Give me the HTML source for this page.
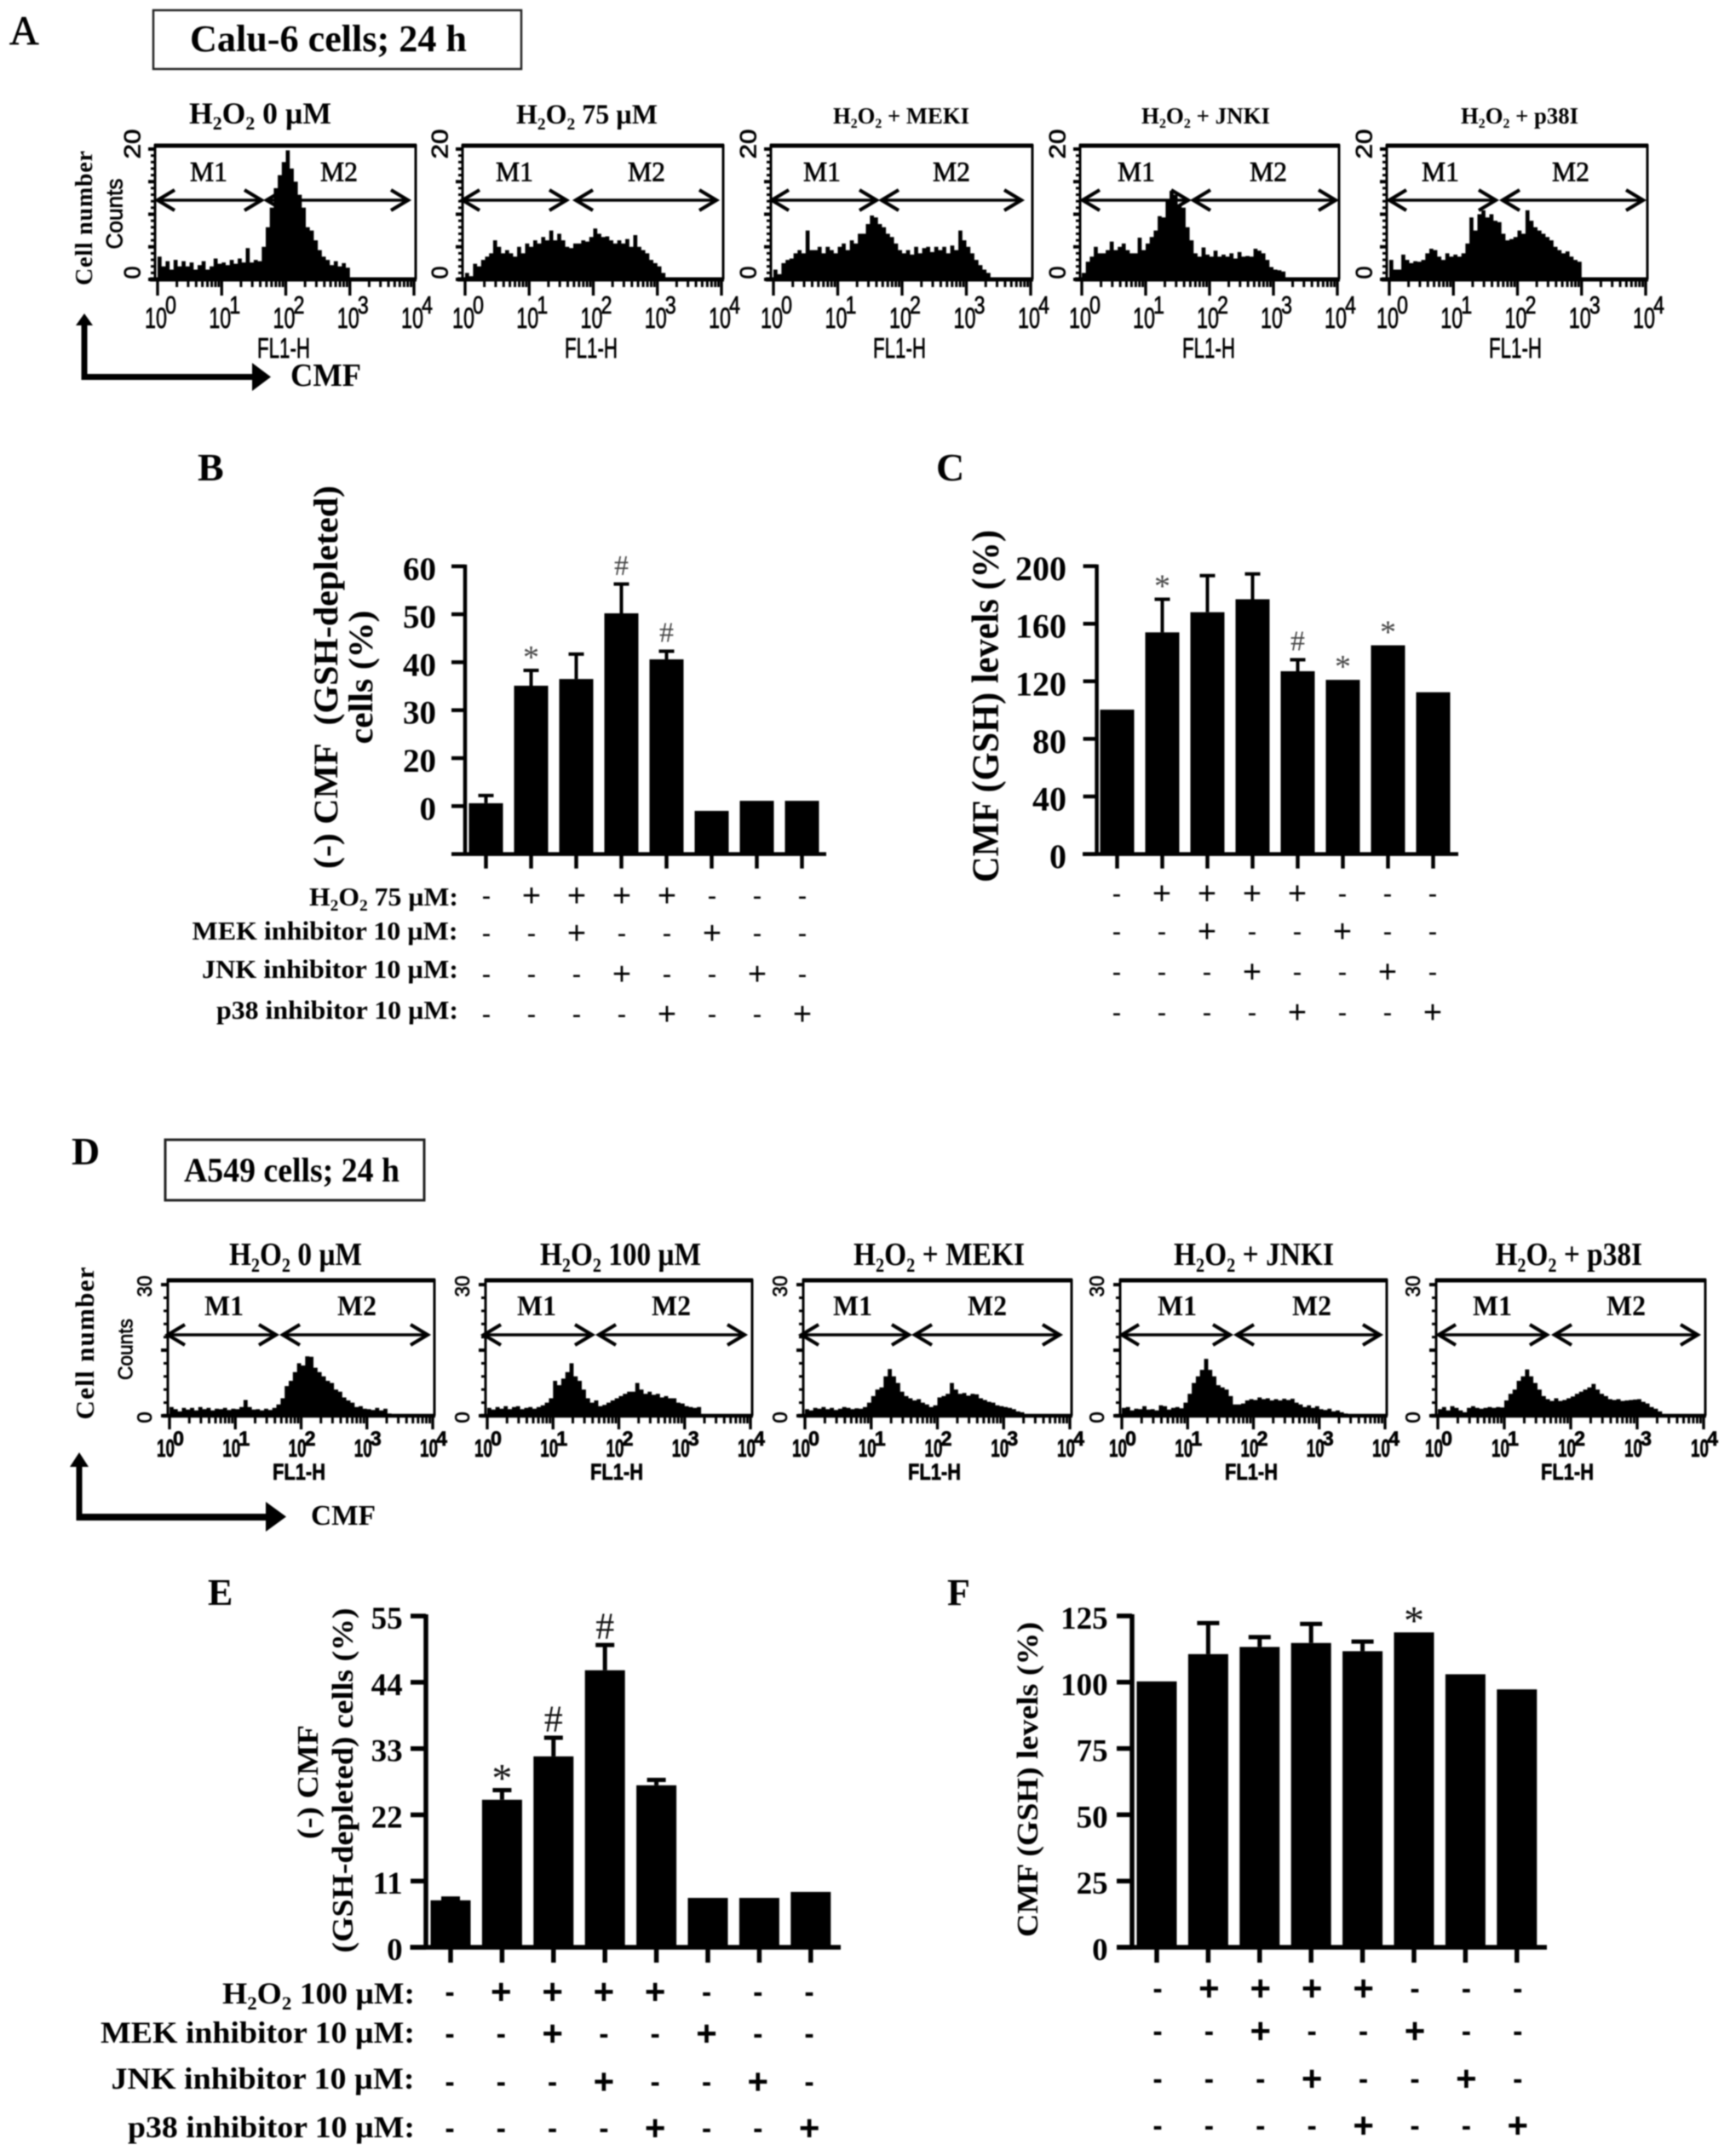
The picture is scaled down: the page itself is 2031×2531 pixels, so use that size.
<!DOCTYPE html>
<html lang="en">
<head>
<meta charset="utf-8">
<title>CMF flow cytometry and GSH-depleted cells, Calu-6 and A549</title>
<style>
html,body{margin:0;padding:0;background:#fff;width:2031px;height:2531px;overflow:hidden}
svg{display:block;filter:blur(0.7px)}
text{font-family:"Liberation Serif",serif;fill:#000}
.sans{font-family:"Liberation Sans",sans-serif}
.b{font-weight:bold}
.thick{stroke:#000;stroke-width:0.7px}
</style>
</head>
<body>
<svg id="figure" xmlns="http://www.w3.org/2000/svg" width="2031" height="2531" viewBox="0 0 2031 2531">
<rect width="2031" height="2531" fill="#fff"/>

<!-- panel letters -->
<text x="11" y="52" font-size="48" class="thick">A</text>
<text x="232" y="564" font-size="46" class="b">B</text>
<text x="1099" y="564" font-size="46" class="b">C</text>
<text x="84" y="1367" font-size="46" class="b">D</text>
<text x="244" y="1884" font-size="44" class="b">E</text>
<text x="1112" y="1884" font-size="44" class="b">F</text>

<!-- title boxes -->
<rect x="180" y="12" width="432" height="69" fill="none" stroke="#222" stroke-width="2.5"/>
<text x="223" y="60" font-size="44" class="b" textLength="325" lengthAdjust="spacingAndGlyphs">Calu-6 cells; 24 h</text>
<rect x="194" y="1338" width="304" height="71" fill="none" stroke="#222" stroke-width="3"/>
<text x="216" y="1387" font-size="40" class="b" textLength="253" lengthAdjust="spacingAndGlyphs">A549 cells; 24 h</text>

<!-- flow axis captions A -->
<text transform="translate(108 256) rotate(-90)" text-anchor="middle" font-size="28" class="b" textLength="158" lengthAdjust="spacing">Cell number</text>
<text class="sans thick" transform="translate(143.5 251) rotate(-90)" text-anchor="middle" font-size="27" textLength="83" lengthAdjust="spacingAndGlyphs">Counts</text>
<g fill="#000" stroke="none">
<rect x="95.5" y="378" width="7" height="68"/><rect x="95.5" y="439" width="202" height="7"/>
<polygon points="99,368 89,382 109,382"/><polygon points="318,442.5 296,426 296,459"/>
</g>
<text x="341" y="453" font-size="38" class="b" textLength="83" lengthAdjust="spacingAndGlyphs">CMF</text>

<!-- flow axis captions D -->
<text transform="translate(110 1577) rotate(-90)" text-anchor="middle" font-size="31" class="b" textLength="179" lengthAdjust="spacing">Cell number</text>
<text class="sans thick" transform="translate(155.6 1584) rotate(-90)" text-anchor="middle" font-size="24" textLength="72" lengthAdjust="spacingAndGlyphs">Counts</text>
<g fill="#000" stroke="none">
<rect x="89.5" y="1718" width="7" height="66"/><rect x="89.5" y="1777" width="225" height="8"/>
<polygon points="93,1705 82,1722 104,1722"/><polygon points="336,1780.5 312,1763 312,1798"/>
</g>
<text x="365" y="1790" font-size="34" class="b" textLength="76" lengthAdjust="spacingAndGlyphs">CMF</text>

<!-- bar chart axis titles -->
<text transform="translate(396 795) rotate(-90)" text-anchor="middle" font-size="40" class="b" textLength="450" lengthAdjust="spacingAndGlyphs">(-) CMF&#160;&#160;(GSH-depleted)</text>
<text transform="translate(437 795) rotate(-90)" text-anchor="middle" font-size="40" class="b" textLength="157" lengthAdjust="spacingAndGlyphs">cells (%)</text>
<text transform="translate(1171.5 829) rotate(-90)" text-anchor="middle" font-size="44" class="b" textLength="414" lengthAdjust="spacingAndGlyphs">CMF (GSH) levels (%)</text>
<text transform="translate(373 2092) rotate(-90)" text-anchor="middle" font-size="35" class="b" textLength="134" lengthAdjust="spacingAndGlyphs">(-) CMF</text>
<text transform="translate(414 2090) rotate(-90)" text-anchor="middle" font-size="35" class="b" textLength="405" lengthAdjust="spacingAndGlyphs">(GSH-depleted) cells (%)</text>
<text transform="translate(1218 2089) rotate(-90)" text-anchor="middle" font-size="35" class="b" textLength="370" lengthAdjust="spacingAndGlyphs">CMF (GSH) levels (%)</text>

<!-- treatment row labels B -->
<text x="363" y="1063" font-size="31" class="b" textLength="175" lengthAdjust="spacingAndGlyphs">H<tspan font-size="19" dy="6">2</tspan><tspan dy="-6">O</tspan><tspan font-size="19" dy="6">2</tspan><tspan dy="-6"> 75 µM:</tspan></text>
<text x="225.5" y="1103" font-size="31" class="b" textLength="312" lengthAdjust="spacingAndGlyphs">MEK inhibitor 10 µM:</text>
<text x="237" y="1148" font-size="31" class="b" textLength="301" lengthAdjust="spacingAndGlyphs">JNK inhibitor 10 µM:</text>
<text x="254" y="1196" font-size="31" class="b" textLength="284" lengthAdjust="spacingAndGlyphs">p38 inhibitor 10 µM:</text>

<!-- treatment row labels E -->
<text x="261" y="2352" font-size="36" class="b" textLength="226" lengthAdjust="spacingAndGlyphs">H<tspan font-size="22" dy="7">2</tspan><tspan dy="-7">O</tspan><tspan font-size="22" dy="7">2</tspan><tspan dy="-7"> 100 µM:</tspan></text>
<text x="118" y="2398" font-size="36" class="b" textLength="369" lengthAdjust="spacingAndGlyphs">MEK inhibitor 10 µM:</text>
<text x="130.5" y="2452" font-size="36" class="b" textLength="356" lengthAdjust="spacingAndGlyphs">JNK inhibitor 10 µM:</text>
<text x="150" y="2509" font-size="36" class="b" textLength="337" lengthAdjust="spacingAndGlyphs">p38 inhibitor 10 µM:</text>
</svg>

<script>
/* ---------- histogram data: counts per bin, 16 bins per decade ---------- */
const histA1=[3.5,2,2.8,1.5,3,2,2.8,2,2.6,1.5,2.2,2.8,1.5,2,3.2,2.4,2.6,2.2,3,2.4,3.2,2.6,4.8,2.6,3,2.8,5,8,11,14,16,18,19.8,17,15,13,11,8,7.5,6,4.5,3.5,3,2.2,2.8,2,2.5,1.8,0];
const histA2=[1,0.5,2.4,2,3,3.5,4,6,5,4,4.5,4,3.5,5,4,5.5,5,6,5.5,6.5,6,7.5,6,7,6,5,4.8,5.5,5.5,6,5.8,6.5,7.8,7,6.5,6.6,6,5.5,6,5.5,6.2,5,6.8,5,4.5,4,3,2.5,2,1,0];
const histA3=[1.5,0.8,2.5,3,3.2,4,4.5,4,7.5,4.5,4.5,5,4,5,4.5,4,5,5.5,4.5,6,5.5,7,7,8.5,9.8,9.5,8.5,8,7,6.5,5.5,4.5,4,4.5,3.8,5,4,4.8,5,4.2,5,4.5,5,4,5.2,4.5,7.5,6,5,4,3,2.2,1.5,1,0];
const histA4=[1,2.7,3.5,5,4,4,4.5,5.8,4.5,5,5.5,4.5,4,4,6.4,4.5,5.5,6.5,7.5,9.7,9.5,12,13.6,13,11.5,11,8,6,4,3.5,4.9,3.8,3.5,4.4,3.5,3.8,3.5,4,3.2,4.2,3.5,3.6,3.5,4.7,4.4,4,3,1.9,1.5,1.4,1.2,0];
const histA5=[3,1.5,1.5,3.8,3,2.5,2.8,2.7,3,4,4.7,4.5,3.5,3,4,3.5,3.8,3.5,4,5.5,9.5,7.5,10,10.6,9.5,10,9,8.8,7,6,6.2,6.5,7.5,7,10.6,9,8,7.5,7,6.5,6,5,4.5,4,4.3,3.5,3,2.7,0];
const histD1=[2,1.5,1,1.8,1.4,1.8,1.2,2,1.5,1.8,1.2,1.6,1.5,1.8,1.3,1.6,1.5,2,3.6,2,1.4,1.5,1.2,1.6,1.3,1.8,2.6,4,6.8,8,10,12,11.5,13.6,13.5,11,10,9,8,7.5,6,5.5,4.2,3.5,3,2,2.2,1.6,1.5,1.3,1.8,1.2,1.6,0.5,0];
const histD2=[1.8,1.4,2,1.6,2.2,1.5,2,2.2,1.5,1.8,2,1.6,2,2.4,3,4,8,7,8.5,10,12,9,8,6,4,3,3.5,2.2,2.5,3,3.5,4,4.5,5,5.5,5.5,7.5,6,5,5.5,4.8,5,4.2,4.5,4,4,3,2.8,2.2,2,1.8,2,0];
const histD3=[1.5,1.2,1.8,1.6,2,1.5,1.8,1.3,1.6,2,1.8,1.5,1.7,1.6,2,3,4.5,6,6.5,9,10.7,9,7.5,5.5,4.5,4,3.5,3.8,3,2.6,2,2.4,4.2,4.5,5,7.5,6,5,5.2,4.6,5,4.9,4,3.6,3.2,3,2.4,2.2,2,1.8,1.5,1,0.8,0];
const histD4=[1.8,2,1.2,1.6,1.5,2.2,1.4,1.5,1.2,2.4,2.2,1.4,1.8,2,1.7,3,5,7.5,9,10.5,13,10.5,9,7,6.5,6,4.5,2.6,2.6,2.8,3.5,3.8,3.6,4.2,3.8,4,3.5,3.8,3.5,3.9,3.6,3.9,3,2.6,2,2.4,1.8,2.2,1.5,1.3,1.6,1,1.2,0.8,0.5,0];
const histD5=[1.5,2,1.2,2.2,1.8,1.2,0.8,1.8,2.2,1.8,1.6,1.8,2,1.8,2,1.9,3.5,5,6,8,9,10.6,9,7.5,6,4.5,3.8,3.4,4,3.4,3.6,4,4.4,5,5.5,6,6.5,7.3,6,5,4.5,3.8,3.6,3.8,3.4,3.5,3.6,3.7,3.8,3.2,2.8,2,1.6,1,0];

/* ---------- histogram labels ---------- */
const histTitlesA=['0 µM','75 µM','+ MEKI','+ JNKI','+ p38I'];
const histTitlesD=['0 µM','100 µM','+ MEKI','+ JNKI','+ p38I'];
const decadeLabels=['0','1','2','3','4'];
const gateLabels=['M1','M2'];

/* ---------- bar chart data ---------- */
const treatmentH2O2=[0,1,1,1,1,0,0,0];
const treatmentMEK =[0,0,1,0,0,1,0,0];
const treatmentJNK =[0,0,0,1,0,0,1,0];
const treatmentP38 =[0,0,0,0,1,0,0,1];

const valuesB=[10.6,35.1,36.5,50.2,40.6,9,11.1,11.1];
const upperB =[12.2,38.3,41.7,56.3,42.3,null,null,null];
const marksB =['','*','','#','#','','',''];
const tickValuesB=[60,50,40,30,20,10];
const tickLabelsB=['60','50','40','30','20','0'];

const valuesC=[100.3,154,168,177,127,121,145,112.4];
const upperC =[null,177,193.4,194.6,135,null,null,null];
const marksC =['','*','','','#','*','*',''];
const tickValuesC=[200,160,120,80,40,0];
const tickLabelsC=['200','160','120','80','40','0'];

const valuesE=[7.8,24.5,31.7,46,26.9,8.2,8.2,9.2];
const upperE =[8.1,26.1,34.8,50.2,27.8,null,null,null];
const marksE =['','*','#','#','','','',''];
const tickValuesE=[55,44,33,22,11,0];
const tickLabelsE=['55','44','33','22','11','0'];

const valuesF=[100.3,110.6,113.3,114.8,111.7,118.8,103,97.3];
const upperF =[null,122.3,117,122,115.3,null,null,null];
const marksF =['','','','','','*','',''];
const tickValuesF=[125,100,75,50,25,0];
const tickLabelsF=['125','100','75','50','25','0'];

/* ---------- drawing ---------- */
const NS='http://www.w3.org/2000/svg';
const svg=document.getElementById('figure');
const BINS=64;
function mk(tag,attrs,parent,txt){
  const n=document.createElementNS(NS,tag);
  for(const k in attrs)n.setAttribute(k,attrs[k]);
  if(txt!==undefined)n.textContent=txt;
  (parent||svg).appendChild(n);
  return n;
}
function gateArrow(g,a,b,y,sw){
  mk('line',{x1:a,x2:b,y1:y,y2:y,stroke:'#000','stroke-width':sw},g);
  mk('polyline',{points:(a+21)+','+(y-12)+' '+(a+1)+','+y+' '+(a+21)+','+(y+12),fill:'none',stroke:'#000','stroke-width':sw+0.8},g);
  mk('polyline',{points:(b-21)+','+(y-12)+' '+(b-1)+','+y+' '+(b-21)+','+(y+12),fill:'none',stroke:'#000','stroke-width':sw+0.8},g);
}
function drawHistogram(cfg,counts,titleSuffix,panel){
  const g=mk('g',{});
  
  
  const xd=d=>cfg.tick0+d*(cfg.tick4-cfg.tick0)/4;
  const yc=c=>cfg.y0-c*cfg.unit;
  /* area, drawn as steps so the outline stays jagged */
  let pts=xd(0)+','+cfg.y0;
  for(let i=0;i<BINS;i++){
    const c=i<counts.length?counts[i]:0;
    pts+=' '+xd(i/16).toFixed(1)+','+yc(c).toFixed(1);
    pts+=' '+xd((i+1)/16).toFixed(1)+','+yc(c).toFixed(1);
  }
  pts+=' '+xd(4)+','+cfg.y0;
  const area=mk('polygon',{points:pts,fill:'#000'},g);
  
  
  /* frame */
  const frame=mk('path',{d:'M'+cfg.x0+' '+cfg.yBase+'V'+cfg.top+'H'+cfg.x1+'V'+cfg.yBase,fill:'none',stroke:'#000','stroke-width':3},g);
  
  
  mk('line',{x1:cfg.x0-1,x2:cfg.x1+1,y1:cfg.top,y2:cfg.top,stroke:'#000','stroke-width':cfg.topW},g);
  mk('line',{x1:cfg.x0-6,x2:cfg.x1+1,y1:cfg.y0,y2:cfg.y0,stroke:'#000','stroke-width':cfg.baseW},g);
  /* left ticks */
  for(let c=0;c<=cfg.yMax;c+=cfg.yStep){
    const major=c%cfg.yMajor===0;
    mk('line',{x1:cfg.x0-(major?8:5),x2:cfg.x0,y1:yc(c),y2:yc(c),stroke:'#000','stroke-width':major?4:3},g);
  }
  /* log ticks */
  for(let d=0;d<4;d++){
    for(let m=1;m<10;m++){
      const x=xd(d+Math.log10(m));
      mk('line',{x1:x,x2:x,y1:cfg.y0,y2:cfg.y0+(m===1?cfg.longTick:cfg.shortTick),stroke:'#000','stroke-width':m===1?3.4:3},g);
    }
  }
  mk('line',{x1:xd(4),x2:xd(4),y1:cfg.y0,y2:cfg.y0+cfg.longTick,stroke:'#000','stroke-width':3.4},g);
  /* decade labels */
  decadeLabels.forEach((lab,i)=>{
    const t=mk('text',{x:xd(i)-cfg.lblBack,y:cfg.lblY,'font-size':cfg.lblSize,class:'sans thick','font-weight':cfg.lblWeight,textLength:cfg.lblW,lengthAdjust:'spacingAndGlyphs'},g,'10');
    
    
    mk('text',{x:xd(i)-cfg.lblBack+cfg.lblW-2,y:cfg.lblY-cfg.supUp,'font-size':cfg.supSize,class:'sans thick','font-weight':cfg.lblWeight,textLength:cfg.supW,lengthAdjust:'spacingAndGlyphs'},g,lab);
  });
  /* x caption */
  const fl=mk('text',{x:cfg.x0+cfg.flBack,y:cfg.flY,'font-size':cfg.flSize,class:'sans thick','font-weight':cfg.lblWeight,textLength:62,lengthAdjust:'spacingAndGlyphs'},g,'FL1-H');
  
  
  /* y labels */
  const yLabX=cfg.x0+cfg.yLabOff;
  const top=mk('text',{transform:'translate('+yLabX+' '+cfg.yTopLabY+') rotate(-90)','text-anchor':'middle','font-size':cfg.yLabSize,class:'sans thick',textLength:cfg.yLabW,lengthAdjust:'spacingAndGlyphs'},g,String(cfg.yMax));
  
  
  const zero=mk('text',{transform:'translate('+yLabX+' '+cfg.yZeroLabY+') rotate(-90)','text-anchor':'middle','font-size':cfg.yLabSize,class:'sans thick'},g,'0');
  
  
  /* title */
  const title=mk('text',{x:cfg.titleX,y:cfg.titleY,'font-size':cfg.titleSize,class:'b',textLength:cfg.titleW,lengthAdjust:'spacingAndGlyphs'},g);
  
  
  const sub=Math.round(cfg.titleSize*0.6),dy=Math.round(cfg.titleSize*0.2);
  title.appendChild(document.createTextNode('H'));
  mk('tspan',{'font-size':sub,dy:dy},title,'2');
  mk('tspan',{dy:-dy},title,'O');
  mk('tspan',{'font-size':sub,dy:dy},title,'2');
  mk('tspan',{dy:-dy},title,' '+titleSuffix);
  /* gates */
  gateLabels.forEach((lab,i)=>{
    const t=mk('text',{x:i?cfg.m2:cfg.m1,y:cfg.mY,'font-size':cfg.mSize,class:cfg.mClass,textLength:cfg.mW,lengthAdjust:'spacingAndGlyphs'},g,lab);
    
    
  });
  gateArrow(g,cfg.a1,cfg.a2,cfg.aY,3.4);
  gateArrow(g,cfg.a3,cfg.a4,cfg.aY,3.4);
}
const baseA={top:171,y0:328,yBase:328,unit:7.65,yMax:20,yStep:1,yMajor:5,topW:5,baseW:5,longTick:19,shortTick:9,
  lblBack:15,lblY:385,lblSize:34,lblWeight:'normal',lblW:26,supUp:17,supSize:29,supW:13,flBack:120,flY:420,flSize:33,
  yLabOff:-17.5,yTopLabY:169,yZeroLabY:320,yLabSize:27,yLabW:35,titleY:145,mY:212.7,mSize:33,mW:44,mClass:'thick',aY:235};
const baseD={top:1503,y0:1662,yBase:1662,unit:5.13,yMax:30,yStep:3,yMajor:15,topW:5,baseW:4.5,longTick:16,shortTick:9,
  lblBack:15,lblY:1710,lblSize:29,lblWeight:'bold',lblW:21,supUp:13,supSize:24,supW:13,flBack:123,flY:1737,flSize:27,
  yLabOff:-19,yTopLabY:1510,yZeroLabY:1664,yLabSize:24,yLabW:25,titleY:1485,titleSize:38,mY:1544,mSize:34,mW:46,mClass:'b',aY:1567};
const cfgA=[
 {x0:182,x1:488,tick0:185,tick4:486,titleX:222,titleW:167,titleSize:36,m1:223,m2:376,a1:184,a2:308,a3:312,a4:480},
 {x0:543,x1:849,tick0:546,tick4:847,titleX:606,titleW:166,titleSize:33,m1:582,m2:737,a1:542,a2:666,a3:675,a4:842},
 {x0:905,x1:1212,tick0:908,tick4:1210,titleX:978,titleW:160,titleSize:27,m1:943,m2:1095,a1:905,a2:1030,a3:1034,a4:1200},
 {x0:1268,x1:1572,tick0:1270,tick4:1570,titleX:1340,titleW:151,titleSize:27,m1:1312,m2:1467,a1:1270,a2:1396,a3:1400,a4:1569},
 {x0:1628,x1:1934,tick0:1631,tick4:1932,titleX:1715,titleW:138,titleSize:27,m1:1669,m2:1822,a1:1630,a2:1757,a3:1763,a4:1930}
];
const cfgD=[
 {x0:197,x1:510,tick0:199,tick4:508,titleX:269,titleW:156,m1:240,m2:396,a1:196,a2:325,a3:331,a4:503},
 {x0:570,x1:883,tick0:572,tick4:881,titleX:634,titleW:189,m1:607,m2:765,a1:567,a2:696,a3:702,a4:875},
 {x0:943,x1:1258,tick0:945,tick4:1256,titleX:1002,titleW:201,m1:978,m2:1136,a1:940,a2:1068,a3:1073,a4:1245},
 {x0:1315,x1:1628,tick0:1317,tick4:1626,titleX:1378,titleW:188,m1:1359,m2:1517,a1:1316,a2:1445,a3:1451,a4:1621},
 {x0:1686,x1:2002,tick0:1688,tick4:2000,titleX:1755.5,titleW:172.5,m1:1729,m2:1886,a1:1688,a2:1817,a3:1824,a4:1994}
];
[histA1,histA2,histA3,histA4,histA5].forEach((h,i)=>drawHistogram(Object.assign({},baseA,cfgA[i]),h,histTitlesA[i],'a'+(i+1)));
[histD1,histD2,histD3,histD4,histD5].forEach((h,i)=>drawHistogram(Object.assign({},baseD,cfgD[i]),h,histTitlesD[i],'d'+(i+1)));

function drawBars(c){
  const g=mk('g',{});
  
  
  const y=v=>c.yBase-(v-c.vMin)*c.unit;
  const x=i=>c.x0+i*c.step;
  c.values.forEach((v,i)=>{
    const bar=mk('rect',{x:x(i)-c.barW/2,y:y(v),width:c.barW,height:c.yBase-y(v),fill:'#000'},g);
    
    
    const up=c.upper[i];
    if(up!==null){
      const e=mk('path',{d:'M'+x(i)+' '+y(v)+'V'+y(up)+'M'+(x(i)-c.cap)+' '+y(up)+'H'+(x(i)+c.cap),fill:'none',stroke:'#000','stroke-width':c.errW},g);
      
      
    }
    if(c.marks[i]){
      const cy=y(up===null?v:up)-22;
      const star=c.marks[i]==='*';
      const t=mk('text',{x:x(i),y:cy+(star?0.5:0.33)*(star?c.starSize:c.hashSize),'text-anchor':'middle','font-size':star?c.starSize:c.hashSize,style:'fill:'+c.markFill},g,c.marks[i]);
      
      
    }
    const tick=mk('line',{x1:x(i),x2:x(i),y1:c.yBase,y2:c.yBase+c.xTickLen,stroke:'#000','stroke-width':c.axisW},g);
    
    
  });
  const yAxis=mk('line',{x1:c.axisX,x2:c.axisX,y1:y(c.vMax)-2,y2:c.yBase,stroke:'#000','stroke-width':c.axisW},g);
  
  
  const xAxis=mk('line',{x1:c.xaxisL,x2:c.xaxisR,y1:c.yBase,y2:c.yBase,stroke:'#000','stroke-width':c.axisW},g);
  
  
  c.ticks.forEach((v,i)=>{
    const tick=mk('line',{x1:c.axisX-c.yTickLen,x2:c.axisX,y1:y(v),y2:y(v),stroke:'#000','stroke-width':c.axisW},g);
    
    
    const t=mk('text',{x:c.labelR,y:y(v)+c.labelDy,'text-anchor':'end','font-size':c.labelSize,class:'b'},g,c.tickLabels[i]);
    
    
  });
  [treatmentH2O2,treatmentMEK,treatmentJNK,treatmentP38].forEach((row,r)=>{
    row.forEach((on,i)=>{
      const mx=c.colX0+i*c.colStep;
      const size=on?c.plusSize:c.dashSize;
      const t=mk('text',{x:mx,y:c.rowY[r]+(on?0.34*size:0.27*size+3),'text-anchor':'middle','font-size':size,class:'sans','font-weight':c.markWeight},g,on?'+':'-');
      
      
    });
  });
}
drawBars({name:'b',values:valuesB,upper:upperB,marks:marksB,ticks:tickValuesB,tickLabels:tickLabelsB,vMin:0,vMax:60,
  yBase:1002.6,unit:5.63,x0:570.5,step:53,barW:40,cap:9,errW:4,axisX:546,xaxisL:530,xaxisR:970,axisW:4.5,yTickLen:16,xTickLen:17,
  labelR:512,labelDy:16,labelSize:39,starSize:38,hashSize:34,markFill:'#444',colX0:571,colStep:53,rowY:[1051,1095,1143,1190],plusSize:38,dashSize:32,markWeight:'normal'});
drawBars({name:'c',values:valuesC,upper:upperC,marks:marksC,ticks:tickValuesC,tickLabels:tickLabelsC,vMin:0,vMax:200,
  yBase:1002.6,unit:1.69,x0:1311.5,step:53,barW:40,cap:9,errW:4,axisX:1287.6,xaxisL:1271,xaxisR:1712,axisW:4.5,yTickLen:16,xTickLen:17,
  labelR:1252,labelDy:16.5,labelSize:40,starSize:38,hashSize:34,markFill:'#444',colX0:1311,colStep:53,rowY:[1048.5,1093,1140.6,1188],plusSize:38,dashSize:32,markWeight:'normal'});
drawBars({name:'e',values:valuesE,upper:upperE,marks:marksE,ticks:tickValuesE,tickLabels:tickLabelsE,vMin:0,vMax:55,
  yBase:2286,unit:7.07,x0:529,step:60.4,barW:47,cap:11,errW:5,axisX:500,xaxisL:481.5,xaxisR:987,axisW:5.5,yTickLen:18,xTickLen:18,
  labelR:472.6,labelDy:15,labelSize:37,starSize:48,hashSize:44,markFill:'#111',colX0:528,colStep:60.3,rowY:[2338,2387,2443.5,2498],plusSize:42,dashSize:34,markWeight:'bold'});
drawBars({name:'f',values:valuesF,upper:upperF,marks:marksF,ticks:tickValuesF,tickLabels:tickLabelsF,vMin:0,vMax:125,
  yBase:2286,unit:3.112,x0:1358,step:60.4,barW:47,cap:13,errW:5,axisX:1329,xaxisL:1311,xaxisR:1816,axisW:5.5,yTickLen:18,xTickLen:18,
  labelR:1300.6,labelDy:15,labelSize:37,starSize:48,hashSize:44,markFill:'#111',colX0:1359,colStep:60.4,rowY:[2334,2384,2440,2495],plusSize:42,dashSize:34,markWeight:'bold'});
</script>
</body>
</html>
